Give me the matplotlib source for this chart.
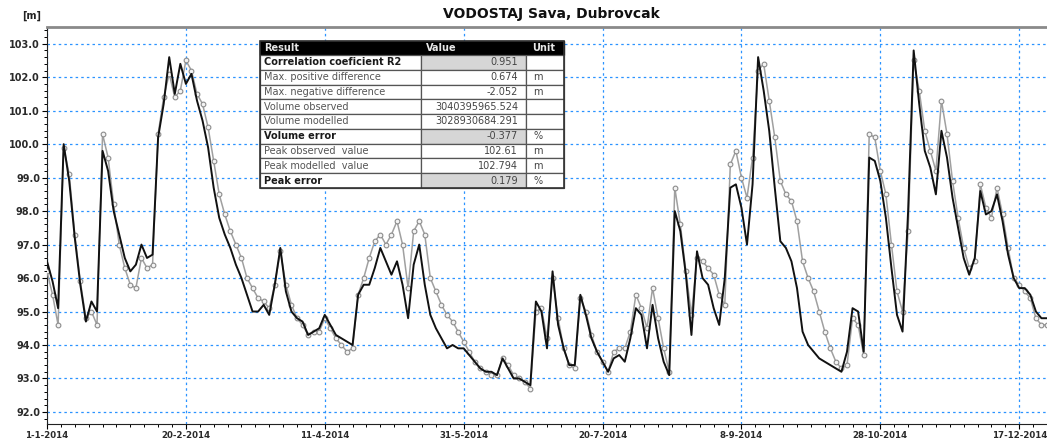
import numpy as np
import matplotlib
matplotlib.use("Agg")
import matplotlib.pyplot as plt
from matplotlib.patches import Rectangle
from matplotlib.ticker import MultipleLocator, FixedLocator

# ---------------- data ----------------
step_days = 2
observed = [
    96.5, 95.9, 95.1, 100.0, 98.9, 97.2, 95.8, 94.7, 95.3, 95.0,
    99.8, 99.2, 98.0, 97.3, 96.6, 96.2, 96.4, 97.0, 96.6, 96.7,
    100.2, 101.2, 102.6, 101.5, 102.4, 101.8, 102.1, 101.3, 100.7, 99.9,
    98.7, 97.8, 97.3, 96.9, 96.4, 96.0, 95.5, 95.0, 95.0, 95.2,
    94.9, 95.8, 96.9, 95.6, 95.0, 94.8, 94.7, 94.3, 94.4, 94.5,
    94.9, 94.6, 94.3, 94.2, 94.1, 94.0, 95.5, 95.8, 95.8, 96.3,
    96.9, 96.5, 96.1, 96.5, 95.8, 94.8, 96.4, 97.0, 95.8, 94.9,
    94.5, 94.2, 93.9, 94.0, 93.9, 93.9, 93.7, 93.5, 93.3, 93.2,
    93.2, 93.1, 93.6, 93.3, 93.0, 93.0, 92.9, 92.8, 95.3, 95.0,
    93.9, 96.2, 94.6, 93.9, 93.4, 93.4, 95.5, 94.9, 94.2, 93.8,
    93.5, 93.2, 93.6, 93.7, 93.5, 94.2, 95.1, 94.9, 93.9, 95.2,
    94.2, 93.5, 93.1, 98.0, 97.4, 96.1, 94.3, 96.8, 96.0, 95.8,
    95.1, 94.6, 96.0, 98.7, 98.8, 98.1, 97.0, 98.8, 102.6, 101.6,
    100.4, 98.7, 97.1, 96.9, 96.5, 95.7, 94.4, 94.0, 93.8, 93.6,
    93.5, 93.4, 93.3, 93.2, 93.8, 95.1, 95.0, 93.8, 99.6, 99.5,
    98.9, 97.8, 96.3, 94.9, 94.4, 98.0, 102.8, 101.2, 99.8, 99.3,
    98.5, 100.4, 99.6, 98.4, 97.5, 96.6, 96.1, 96.6, 98.6, 97.9,
    98.0, 98.5, 97.7, 96.7, 96.0, 95.7, 95.7, 95.5, 95.0, 94.8,
    94.8,
]
modelled = [
    96.2, 95.5, 94.6, 99.9, 99.1, 97.3, 95.9, 94.8, 95.0, 94.6,
    100.3, 99.6, 98.2, 97.0, 96.3, 95.8, 95.7, 96.6, 96.3, 96.4,
    100.3, 101.4, 102.1, 101.4, 101.6, 102.5, 102.2, 101.5, 101.2, 100.5,
    99.5, 98.5, 97.9, 97.4, 97.0, 96.6, 96.0, 95.7, 95.4, 95.3,
    95.1, 95.8, 96.8, 95.8, 95.2, 94.8, 94.6, 94.3, 94.4, 94.4,
    94.8, 94.5, 94.2, 94.0, 93.8, 93.9, 95.5, 96.0, 96.6, 97.1,
    97.3, 97.0, 97.3, 97.7, 97.0, 95.7, 97.4, 97.7, 97.3, 96.0,
    95.6, 95.2, 94.9, 94.7, 94.4, 94.1, 93.8, 93.5, 93.3, 93.2,
    93.1, 93.1, 93.6, 93.4, 93.1, 93.0, 92.9, 92.7, 95.0, 95.1,
    94.2, 96.0, 94.8, 93.9, 93.4, 93.3, 95.4, 95.0, 94.3, 93.8,
    93.5, 93.2, 93.8, 93.9, 93.9, 94.4, 95.5, 95.1, 94.5, 95.7,
    94.8, 93.9, 93.2, 98.7, 97.6, 96.2, 94.9, 96.6, 96.5, 96.3,
    96.1, 95.5, 95.2, 99.4, 99.8, 99.0, 98.4, 99.6, 102.2, 102.4,
    101.3, 100.2, 98.9, 98.5, 98.3, 97.7, 96.5, 96.0, 95.6, 95.0,
    94.4, 93.9, 93.5, 93.3, 93.4, 94.8, 94.6, 93.7, 100.3, 100.2,
    99.2, 98.5, 97.0, 95.6, 95.0, 97.4, 102.5, 101.6, 100.4, 99.8,
    99.2, 101.3, 100.3, 98.9, 97.8, 96.9, 96.3, 96.5, 98.8, 98.1,
    97.8, 98.7, 97.9, 96.9, 96.0, 95.8, 95.6, 95.4, 94.8, 94.6,
    94.6,
]
tick_days = [0, 50, 100, 150, 200, 250, 300, 350]
tick_labels = ["1-1-2014", "20-2-2014", "11-4-2014", "31-5-2014",
               "20-7-2014", "8-9-2014", "28-10-2014", "17-12-2014"]

table_rows = ["Correlation coeficient R2", "Max. positive difference",
              "Max. negative difference", "Volume observed", "Volume modelled",
              "Volume error", "Peak observed  value", "Peak modelled  value",
              "Peak error"]
table_values = ["0.951", "0.674", "-2.052", "3040395965.524", "3028930684.291",
                "-0.377", "102.61", "102.794", "0.179"]
table_units = ["", "m", "m", "", "", "%", "m", "m", "%"]
table_bold = [True, False, False, False, False, True, False, False, True]

days = np.arange(len(observed)) * step_days

# ---------------- figure ----------------
W, H = 1047, 440
fig = plt.figure(figsize=(W / 100, H / 100), dpi=100)
ax_top, ax_bot = 27, 424
ax = fig.add_axes([47 / W, 1 - ax_bot / H, 1 - 47 / W, (ax_bot - ax_top) / H])

ax.plot(days, modelled, color="#a0a0a0", lw=1.1, marker="o", ms=3.4,
        mfc="#f4f4f4", mec="#8c8c8c", mew=0.8, zorder=3)
ax.plot(days, observed, color="#111111", lw=1.4, zorder=4)

ax.set_xlim(0, 360)
ax.set_ylim(91.64, 103.5)

ax.yaxis.set_major_locator(MultipleLocator(1.0))
ax.yaxis.set_minor_locator(MultipleLocator(0.2))
ax.xaxis.set_major_locator(FixedLocator(tick_days))
ax.xaxis.set_minor_locator(MultipleLocator(5))
ax.set_xticklabels(tick_labels)
ax.yaxis.set_major_formatter(matplotlib.ticker.FormatStrFormatter("%.1f"))

for lab in ax.get_yticklabels():
    lab.set_fontweight("bold")
    lab.set_fontsize(7)
    lab.set_color("#2a2a2a")
for lab in ax.get_xticklabels():
    lab.set_fontweight("bold")
    lab.set_fontsize(6.2)
    lab.set_color("#2a2a2a")
ax.tick_params(axis="both", which="major", length=3.5, width=0.8, direction="out", pad=1.5)
ax.tick_params(axis="both", which="minor", length=2.5, width=0.7, direction="out")

ax.grid(True, which="major", color="#2a93ff", linestyle=(0, (2, 2.5)), lw=0.9)
ax.set_axisbelow(True)

ax.spines["top"].set_color("#8a8a8a")
ax.spines["top"].set_linewidth(2)
ax.spines["right"].set_visible(False)
ax.spines["left"].set_color("#222222")
ax.spines["bottom"].set_color("#222222")

fig.text(551 / W, 1 - 14 / H, "VODOSTAJ Sava, Dubrovcak", ha="center", va="center",
         fontsize=10, fontweight="bold", color="#111111")
fig.text(32 / W, 1 - 16 / H, "[m]", ha="center", va="center",
         fontsize=7, fontweight="bold", color="#222222")

# ---------------- results table (overlay in pixel space) ----------------
ov = fig.add_axes([0, 0, 1, 1])
ov.set_xlim(0, W)
ov.set_ylim(H, 0)
ov.axis("off")
tx0, tx1, tx2, tx3 = 260, 421, 526, 564
hy0, hy1 = 41, 55
rh = (188 - hy1) / len(table_rows)
ov.add_patch(Rectangle((tx0, hy0), tx3 - tx0, hy1 - hy0, facecolor="black",
                       edgecolor="black", lw=1, zorder=5))
for txt, xx, ha in [("Result", tx0 + 4, "left"), ("Value", tx1 + 5, "left"),
                    ("Unit", tx2 + 6, "left")]:
    ov.text(xx, (hy0 + hy1) / 2, txt, ha=ha, va="center", fontsize=7,
            fontweight="bold", color="#e8e8e8", zorder=6)
for i, (name, val, unit, bold) in enumerate(zip(table_rows, table_values,
                                                 table_units, table_bold)):
    y0 = hy1 + i * rh
    ov.add_patch(Rectangle((tx0, y0), tx1 - tx0, rh, facecolor="white",
                           edgecolor="#555555", lw=0.9, zorder=5))
    ov.add_patch(Rectangle((tx1, y0), tx2 - tx1, rh,
                           facecolor="#d6d6d6" if bold else "white",
                           edgecolor="#555555", lw=0.9, zorder=5))
    ov.add_patch(Rectangle((tx2, y0), tx3 - tx2, rh, facecolor="white",
                           edgecolor="#555555", lw=0.9, zorder=5))
    col = "#1a1a1a" if bold else "#555555"
    fw = "bold" if bold else "normal"
    ov.text(tx0 + 4, y0 + rh / 2, name, ha="left", va="center", fontsize=7,
            fontweight=fw, color=col, zorder=6)
    ov.text(tx2 - 8, y0 + rh / 2, val, ha="right", va="center", fontsize=7,
            color="#444444", zorder=6)
    ov.text(tx2 + 7, y0 + rh / 2, unit, ha="left", va="center", fontsize=7,
            color="#444444", zorder=6)
ov.add_patch(Rectangle((tx0, hy0), tx3 - tx0, 188 - hy0, facecolor="none",
                       edgecolor="#333333", lw=1.2, zorder=7))

fig.savefig("out.png", dpi=100)
